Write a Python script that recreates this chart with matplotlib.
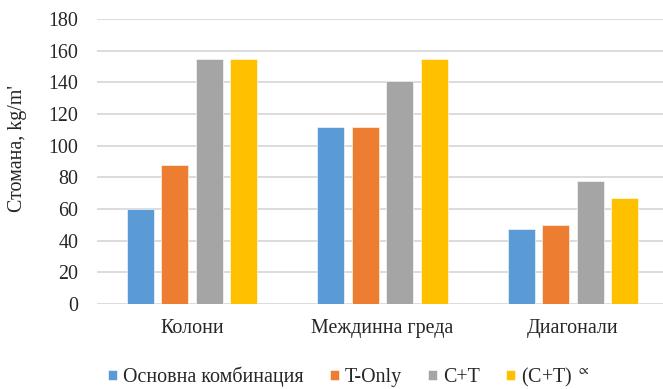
import numpy as np
import matplotlib
matplotlib.use("Agg")
import matplotlib.pyplot as plt

plt.rcParams['font.family'] = ['Liberation Serif', 'DejaVu Serif']
plt.rcParams['mathtext.fontset'] = 'stix'

categories = ["Колони", "Междинна греда", "Диагонали"]
series_names = ["Основна комбинация", "T-Only", "C+T", "(C+T) $^{\\propto}$"]
osnovna = [60, 112, 47.5]
t_only = [88, 112, 50]
c_t = [154.5, 141, 78]
c_t_alpha = [154.5, 154.5, 67]
colors = ["#5B9BD5", "#ED7D31", "#A5A5A5", "#FFC000"]

values = [osnovna, t_only, c_t, c_t_alpha]
fs = 14.4

fig = plt.figure(figsize=(6.63, 3.89), dpi=100)
ax = fig.add_axes([97 / 663, 1 - 304 / 389, 566 / 663, (304 - 19) / 389])

x = np.arange(len(categories))
pitch = 0.181
width = 0.142
for i, (vals, name, col) in enumerate(zip(values, series_names, colors)):
    ax.bar(x + (i - 1.5) * pitch, vals, width, color=col, label=name,
           edgecolor="white", linewidth=0.4, zorder=3)

ax.set_xlim(-0.5, 2.474)
ax.set_ylim(0, 180)
ax.set_yticks(range(0, 181, 20))
ax.set_xticks(x)
ax.set_xticklabels(categories)
ax.grid(axis='y', color="#D9D9D9", linewidth=1.3, zorder=0)
ax.set_axisbelow(True)
for s in ax.spines.values():
    s.set_visible(False)
ax.tick_params(axis='y', length=0, pad=13.5, labelsize=fs, colors="#262626")
ax.tick_params(axis='x', length=0, pad=11, labelsize=fs, colors="#262626")

fig.text(18 / 663, 1 - 148 / 389, "Стомана, kg/m'", rotation=90,
         ha='center', va='center', fontsize=fs, color="#262626")

fig.legend(loc='center', bbox_to_anchor=(349 / 663, 1 - 377 / 389), ncol=4,
           frameon=False, fontsize=fs, handlelength=0.45, handleheight=0.45,
           handletextpad=0.3, columnspacing=1.3, labelcolor="#262626",
           borderpad=0)

fig.savefig("out.png", dpi=100)
